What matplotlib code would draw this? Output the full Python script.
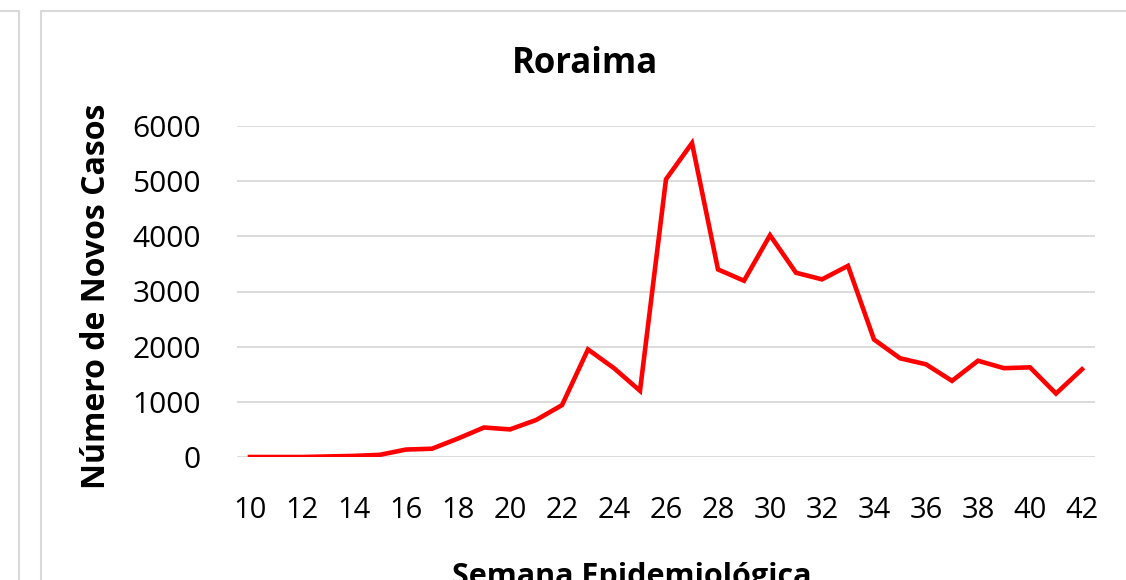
import matplotlib
matplotlib.use('Agg')
import matplotlib.pyplot as plt
from matplotlib.lines import Line2D

weeks = list(range(10, 43))
cases = [0, 0, 0, 10, 20, 40, 135, 150, 335, 535, 500, 670, 940, 1950, 1610, 1200,
         5035, 5690, 3400, 3195, 4020, 3340, 3220, 3465, 2130, 1790, 1680, 1380,
         1745, 1610, 1625, 1150, 1590]
yticks = [0, 1000, 2000, 3000, 4000, 5000, 6000]
xticks = list(range(10, 43, 2))

W, H = 1126, 580
fig = plt.figure(figsize=(W / 100, H / 100), dpi=100)
ax = fig.add_axes([237 / W, 1 - 457 / H, (1095 - 237) / W, (457 - 126) / H])

ax.plot(weeks, cases, color='#ff0000', lw=3.3, solid_joinstyle='miter', zorder=3)
ax.set_xlim(9.5, 42.5)
ax.set_ylim(0, 6000)
ax.set_yticks(yticks)
ax.set_xticks(xticks)
ax.grid(axis='y', color='#d9d9d9', lw=1.3)
ax.set_axisbelow(True)
for s in ax.spines.values():
    s.set_visible(False)
ax.tick_params(length=0)
ax.tick_params(axis='y', pad=26, labelsize=21.5)
ax.tick_params(axis='x', pad=28, labelsize=21)
for lab in ax.get_yticklabels() + ax.get_xticklabels():
    lab.set_family('Open Sans')

fig.text(585 / W, 1 - 64 / H, 'Roraima', ha='center', va='center',
         fontsize=25, fontweight='bold', family='Open Sans')
fig.text(97 / W, 1 - 296 / H, 'Número de Novos Casos', ha='center', va='center',
         rotation=90, fontsize=23, fontweight='bold', family='Open Sans')
fig.text(632 / W, 1 - 585 / H, 'Semana Epidemiológica', ha='center', va='baseline',
         fontsize=22, fontweight='bold', family='Open Sans')

# chart frames (this one and the edge of the neighbouring one)
c = '#d9d9d9'
def px_line(xs, ys):
    fig.add_artist(Line2D([x / W for x in xs], [1 - y / H for y in ys],
                          color=c, lw=1.5, transform=fig.transFigure))
px_line([41, 41, W + 5], [H + 5, 11, 11])
px_line([-5, 19, 19], [11, 11, H + 5])

fig.savefig('out.png', dpi=100, facecolor='white')
